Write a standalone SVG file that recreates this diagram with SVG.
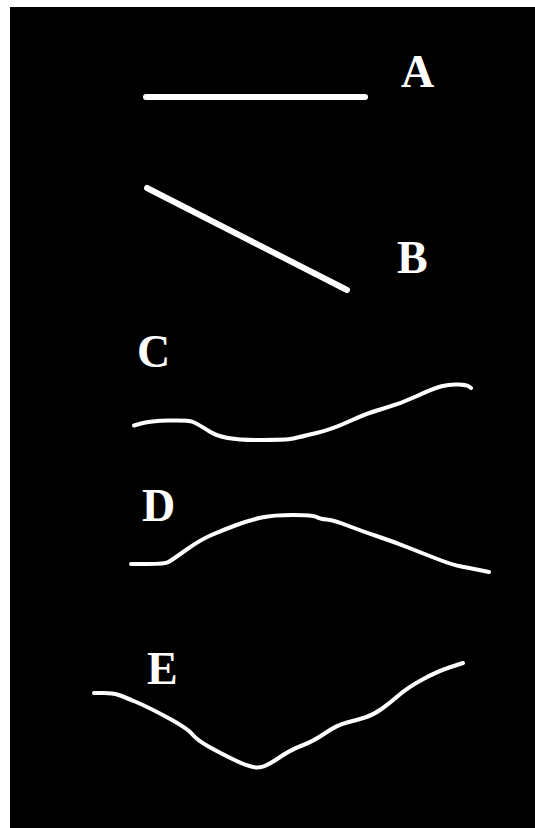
<svg xmlns="http://www.w3.org/2000/svg" width="535" height="828" viewBox="0 0 535 828">
  <style>
    .bg { fill: #000000; }
    .stroke { fill: none; stroke: #ffffff; stroke-linecap: round; stroke-linejoin: round; }
    .straight { stroke-width: 6; }
    .wave { stroke-width: 4; }
    .label { font-family: "Liberation Serif", "Times New Roman", serif; font-weight: bold; font-size: 46px; fill: #ffffff; }
  </style>
  <rect x="0" y="0" width="535" height="828" fill="#ffffff"/>
  <rect class="bg" x="10" y="7" width="525" height="821"/>

  <g id="connectors">
    <line class="stroke straight" x1="146" y1="97" x2="365" y2="97"/>
    <line class="stroke straight" x1="147" y1="188" x2="347" y2="290"/>
    <path class="stroke wave" d="M134,425.5 L142,423.25 Q150,421 169,420.5 Q188,420 192.5,421.75 Q197,423.5 210,431.75 Q223,440 255,440 Q287,440 293.5,438.5 Q300,437 316.5,433 Q333,429 350,421 Q367,413 383.5,408.5 Q400,404 416.5,396.25 Q433,388.5 441.5,386.25 Q450,384 458.5,384.5 Q467,385 469,386.5 L471,388"/>
    <path class="stroke wave" d="M131,564 L148,564 Q165,564 168.5,562 Q172,560 186,550 Q200,540 211.5,535 Q223,530 236.5,525 Q250,520 261.5,517.5 Q273,515 293,515 Q313,515 316.5,517 Q320,519 326.5,519.5 Q333,520 348,525.75 Q363,531.5 378,536.5 Q393,541.5 410,548.25 Q427,555 440,560 Q453,565 460,566.25 Q467,567.5 478,569.75 L489,572"/>
    <path class="stroke wave" d="M94,693 L103.5,693 Q113,693 118,694.75 Q123,696.5 135,701.5 Q147,706.5 167,717.25 Q187,728 192,734 Q197,740 208.5,746.5 Q220,753 235,760.25 Q250,767.5 257.5,767.5 Q265,767.5 277.5,758.75 Q290,750 301.5,745.75 Q313,741.5 325,733.25 Q337,725 347,722.5 Q357,720 365,717.5 Q373,715 381.5,709 Q390,703 398.5,695.5 Q407,688 422,679.75 Q437,671.5 450,667.25 L463,663"/>
  </g>

  <g id="label-a"><text class="label" x="401" y="87">A</text></g>
  <g id="label-b"><text class="label" x="397" y="273">B</text></g>
  <g id="label-c"><text class="label" x="137" y="367">C</text></g>
  <g id="label-d"><text class="label" x="142" y="521">D</text></g>
  <g id="label-e"><text class="label" x="147" y="684">E</text></g>
</svg>
